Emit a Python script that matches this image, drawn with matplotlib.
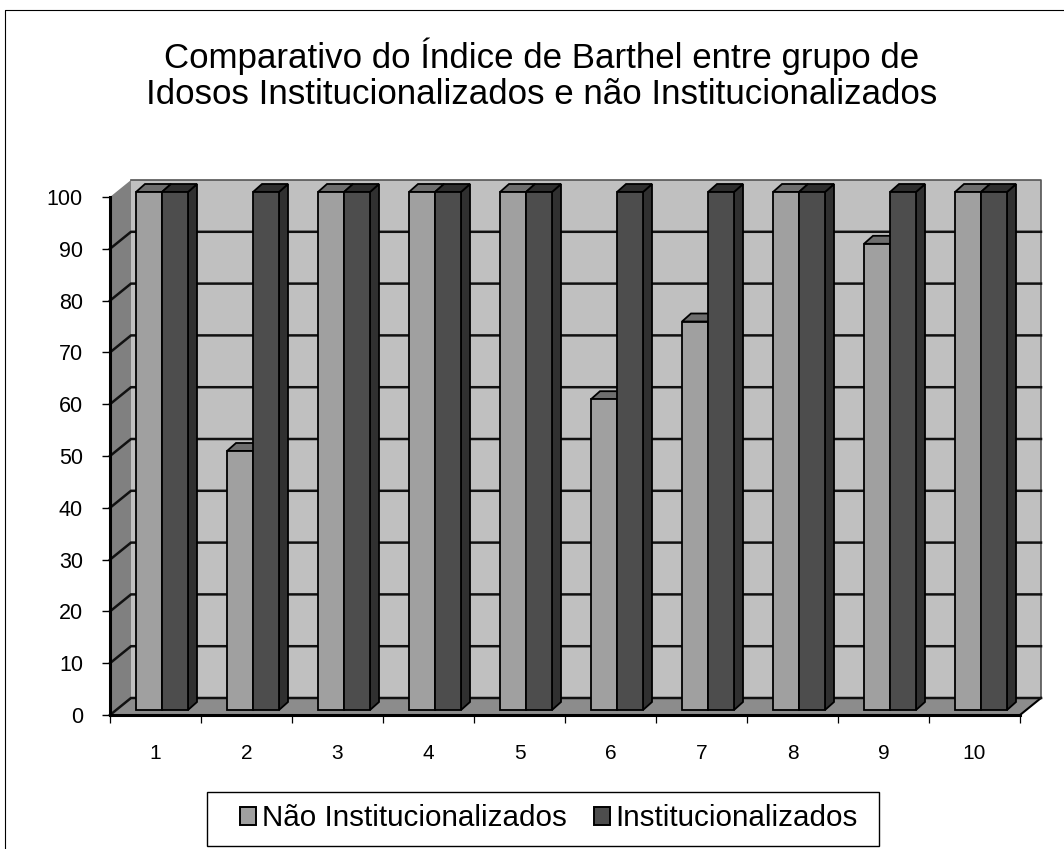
import matplotlib
matplotlib.use('agg')
import matplotlib.pyplot as plt
from matplotlib.patches import Polygon, Rectangle
from matplotlib.lines import Line2D

plt.rcParams['font.family'] = ['Liberation Sans', 'DejaVu Sans']

categories = ['1', '2', '3', '4', '5', '6', '7', '8', '9', '10']
nao_inst = [100, 50, 100, 100, 100, 60, 75, 100, 90, 100]
inst = [100, 100, 100, 100, 100, 100, 100, 100, 100, 100]
y_ticks = [0, 10, 20, 30, 40, 50, 60, 70, 80, 90, 100]
title = 'Comparativo do Índice de Barthel entre grupo de\nIdosos Institucionalizados e não Institucionalizados'
names = ['Não Institucionalizados', 'Institucionalizados']

W, H = 1064, 849
fig = plt.figure(figsize=(W / 100, H / 100), dpi=100, facecolor='white')

# front plane of the fake 3d box, in pixels of the image
L, R, B, T = 110, 1020, 715, 197
ax = fig.add_axes([L / W, 1 - B / H, (R - L) / W, (B - T) / H])
ax.set_xlim(0, 10)
ax.set_ylim(0, 100)
ax.patch.set_visible(False)

ux = (R - L) / 10.0   # px per category
uy = (B - T) / 100.0  # px per unit
wall_dx, wall_dy = 21 / ux, 17 / uy
bar_dx, bar_dy = 9 / ux, 8 / uy
off_y = 5 / uy
bar_w = 26 / ux
bar_start = 26 / ux


def poly(pts, fc, ec='none', lw=0, z=1):
    ax.add_patch(Polygon(pts, closed=True, fc=fc, ec=ec, lw=lw, zorder=z, clip_on=False))


# walls and floor
poly([(wall_dx, wall_dy), (10 + wall_dx, wall_dy), (10 + wall_dx, 100 + wall_dy), (wall_dx, 100 + wall_dy)],
     '#c0c0c0', z=1)
poly([(0, 0), (wall_dx, wall_dy), (wall_dx, 100 + wall_dy), (0, 100)], '#808080', z=1)
poly([(0, 0), (10, 0), (10 + wall_dx, wall_dy), (wall_dx, wall_dy)], '#8c8c8c', z=1)
ax.plot([wall_dx, 10 + wall_dx, 10 + wall_dx], [100 + wall_dy, 100 + wall_dy, wall_dy],
        color='#555555', lw=1.2, zorder=2, clip_on=False)
ax.plot([10, 10 + wall_dx], [0, wall_dy], color='black', lw=1.5, zorder=2, clip_on=False)

# grid lines run along the back wall and down the side wall
for v in y_ticks[:-1]:
    ax.plot([0, wall_dx, 10 + wall_dx], [v, v + wall_dy, v + wall_dy],
            color='#111111', lw=1.8, zorder=2, clip_on=False, solid_joinstyle='miter')


def bar3d(x, v, front, top, side):
    poly([(x + bar_w, off_y), (x + bar_w + bar_dx, off_y + bar_dy),
          (x + bar_w + bar_dx, v + off_y + bar_dy), (x + bar_w, v + off_y)], side, 'black', 1.3, 3)
    poly([(x, v + off_y), (x + bar_w, v + off_y),
          (x + bar_w + bar_dx, v + off_y + bar_dy), (x + bar_dx, v + off_y + bar_dy)], top, 'black', 1.3, 3)
    ax.bar(x, v, width=bar_w, bottom=off_y, align='edge', color=front, edgecolor='black',
           linewidth=1.3, zorder=4, clip_on=False)


for i in range(len(categories)):
    x = i + bar_start
    bar3d(x, nao_inst[i], '#a0a0a0', '#6e6e6e', '#6e6e6e')
    bar3d(x + bar_w, inst[i], '#4d4d4d', '#2e2e2e', '#303030')

# axes
for s in ['top', 'right']:
    ax.spines[s].set_visible(False)
for s in ['left', 'bottom']:
    ax.spines[s].set_linewidth(2.2)
    ax.spines[s].set_color('black')
    ax.spines[s].set_zorder(6)
ax.set_xticks(range(0, 11))
ax.set_xticklabels([])
ax.set_xticks([i + 0.5 for i in range(10)], minor=True)
ax.set_xticklabels(categories, minor=True, fontsize=15)
ax.tick_params(axis='x', which='major', length=6, width=0.9, color='black')
ax.tick_params(axis='x', which='minor', length=0, pad=21)
ax.set_yticks(y_ticks)
ax.tick_params(axis='y', length=6, width=1.0, labelsize=15.5, pad=13.5)

fig.text(542 / W, 1 - 74 / H, title, ha='center', va='center', fontsize=25.1, linespacing=1.1)

# chart border, cut by the image on the right and bottom
fig.add_artist(Line2D([4.5 / W, 4.5 / W, 1], [0, 1 - 9.5 / H, 1 - 9.5 / H], color='black', lw=0.8))

# legend box
fig.add_artist(Rectangle((206.5 / W, 1 - 845.5 / H), 672 / W, 54 / H, transform=fig.transFigure,
                         fc='white', ec='black', lw=1.0))
handles = [Rectangle((0, 0), 1, 1, fc='#a0a0a0', ec='black', lw=1.4),
           Rectangle((0, 0), 1, 1, fc='#4d4d4d', ec='black', lw=1.4)]
fig.legend(handles, names, ncol=2, loc='center', bbox_to_anchor=(549 / W, 1 - 818.5 / H), frameon=False,
           fontsize=21.3, handlelength=0.55, handleheight=0.55, handletextpad=0.2, columnspacing=0.9,
           borderpad=0)

fig.savefig('out.png', dpi=100)
